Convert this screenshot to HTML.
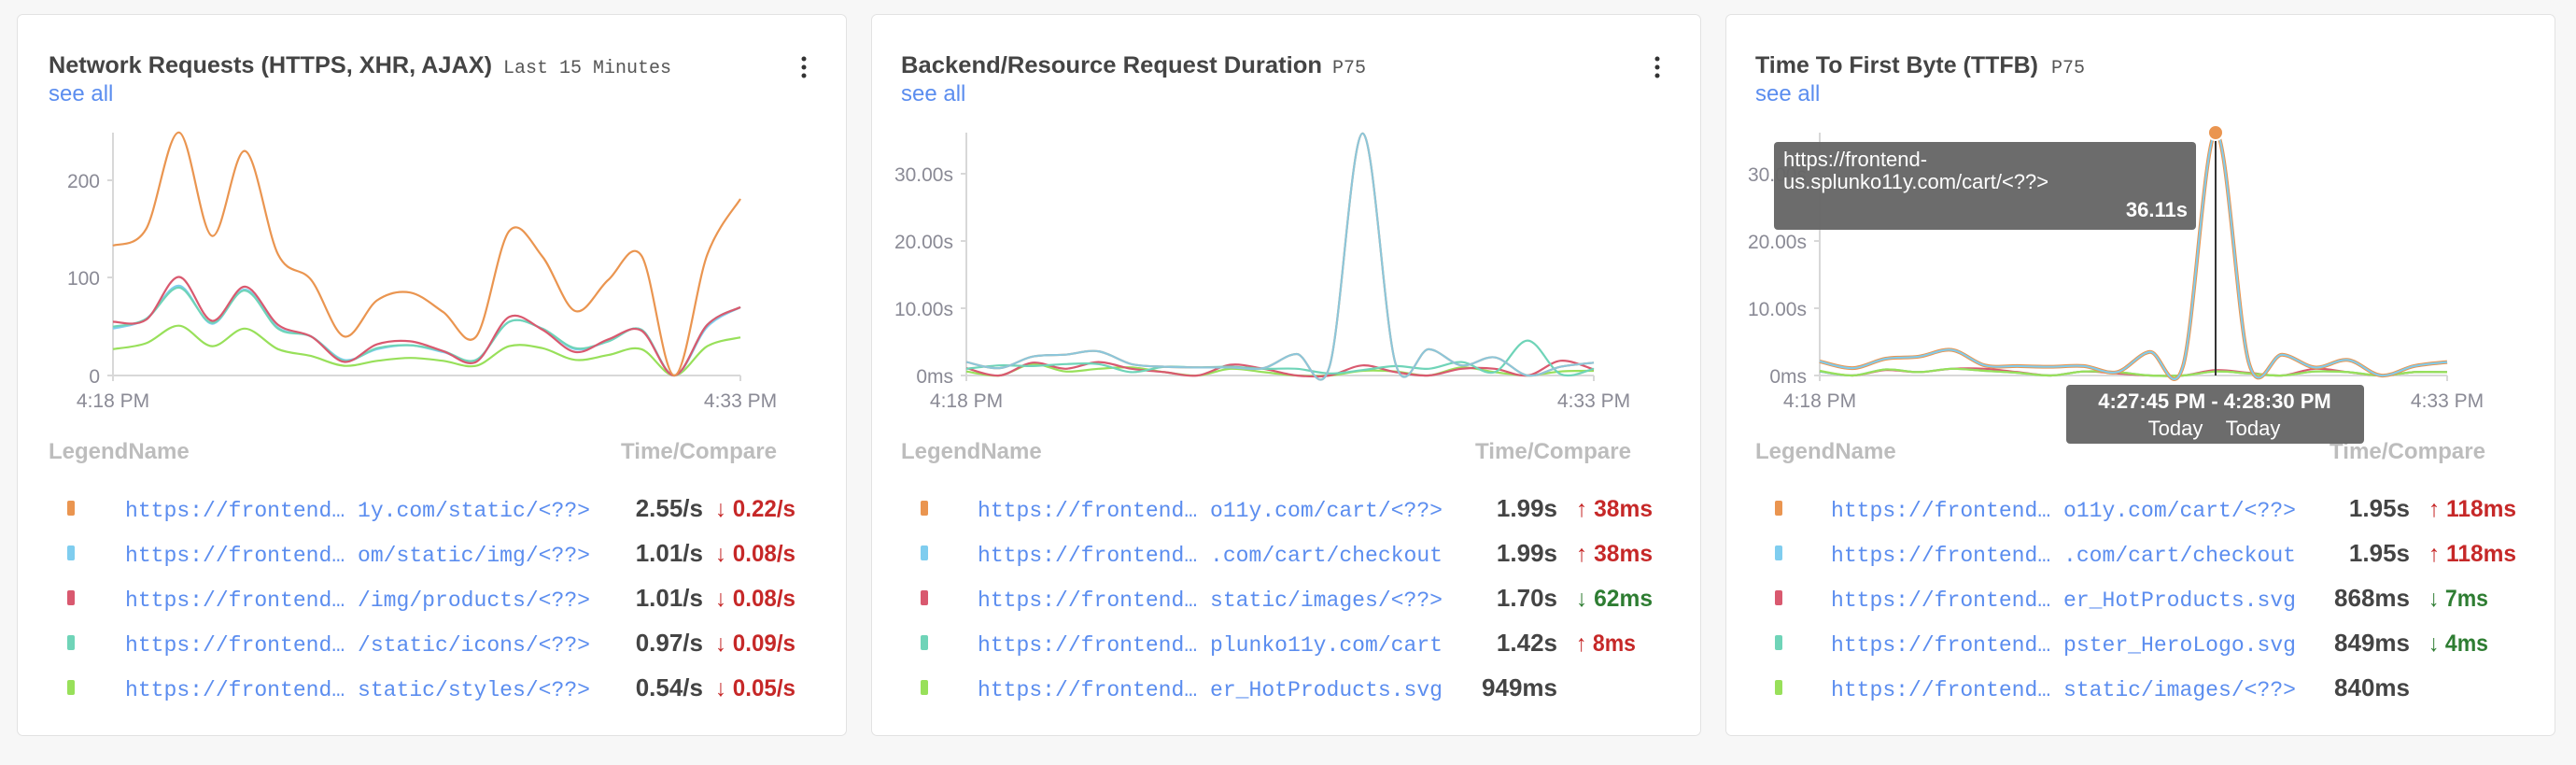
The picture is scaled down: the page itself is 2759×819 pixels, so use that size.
<!DOCTYPE html>
<html><head><meta charset="utf-8"><style>
html,body{margin:0;padding:0;background:#f7f7f7;width:2759px;height:819px;overflow:hidden}
svg{display:block}
.t{font-family:"Liberation Sans",sans-serif;font-weight:bold;font-size:25px;fill:#444}
.sub{font-family:"Liberation Mono",monospace;font-size:20px;fill:#555}
.see{font-family:"Liberation Sans",sans-serif;font-size:24px;fill:#5b8def}
.tick{font-family:"Liberation Sans",sans-serif;font-size:21px;fill:#8a8a95}
.lh{font-family:"Liberation Sans",sans-serif;font-weight:bold;font-size:24px;fill:#bdbdbd}
.url{font-family:"Liberation Mono",monospace;font-size:23px;fill:#5b8def}
.val{font-family:"Liberation Sans",sans-serif;font-weight:bold;font-size:26px;fill:#444}
.up{font-family:"Liberation Sans",sans-serif;font-weight:bold;font-size:25px;fill:#c62828}
.dn{font-family:"Liberation Sans",sans-serif;font-weight:bold;font-size:25px;fill:#2e7d32}
.ar{font-weight:normal}
.tt{font-family:"Liberation Sans",sans-serif;font-size:22px;fill:#fff}
</style></head><body>
<svg id="s" width="2759" height="819" xmlns="http://www.w3.org/2000/svg">
<rect width="2759" height="819" fill="#f7f7f7"/>

<!-- Card 1 -->
<g transform="translate(18,0)">
<rect x="0.5" y="15.5" width="888" height="772" rx="6" fill="#fff" stroke="#e2e2e2"/>
<text class="t" x="34" y="78" textLength="475" lengthAdjust="spacingAndGlyphs">Network Requests (HTTPS, XHR, AJAX)</text>
<text class="sub" x="521" y="78">Last 15 Minutes</text>
<circle cx="843" cy="63" r="2.5" fill="#333"/><circle cx="843" cy="72" r="2.5" fill="#333"/><circle cx="843" cy="81" r="2.5" fill="#333"/>
<text class="see" x="34" y="108">see all</text>
<line x1="103" y1="142" x2="103" y2="408" stroke="#d8d8d8" stroke-width="2"/>
<line x1="103" y1="402" x2="775" y2="402" stroke="#d8d8d8" stroke-width="2"/>
<line x1="775" y1="402" x2="775" y2="408" stroke="#d8d8d8" stroke-width="2"/>
<line x1="97" y1="193" x2="103" y2="193" stroke="#d8d8d8" stroke-width="2"/>
<line x1="97" y1="297" x2="103" y2="297" stroke="#d8d8d8" stroke-width="2"/>
<line x1="97" y1="402" x2="103" y2="402" stroke="#d8d8d8" stroke-width="2"/>
<text class="tick" x="89" y="201" text-anchor="end">200</text>
<text class="tick" x="89" y="305" text-anchor="end">100</text>
<text class="tick" x="89" y="410" text-anchor="end">0</text>
<text class="tick" x="103" y="436" text-anchor="middle">4:18 PM</text>
<text class="tick" x="775" y="436" text-anchor="middle">4:33 PM</text>
<g id="c1"></g>
<text class="lh" x="34" y="491">LegendName</text>
<text class="lh" x="647" y="491" textLength="167" lengthAdjust="spacingAndGlyphs">Time/Compare</text>
<rect x="54" y="536" width="8" height="16" rx="2" fill="#ea9550"/>
<rect x="54" y="584" width="8" height="16" rx="2" fill="#7fcdef"/>
<rect x="54" y="632" width="8" height="16" rx="2" fill="#d9596f"/>
<rect x="54" y="680" width="8" height="16" rx="2" fill="#6fd4b8"/>
<rect x="54" y="728" width="8" height="16" rx="2" fill="#98e05a"/>
<text class="url" x="116" y="553" textLength="498" lengthAdjust="spacingAndGlyphs">https://frontend… 1y.com/static/&lt;??&gt;</text>
<text class="url" x="116" y="601" textLength="498" lengthAdjust="spacingAndGlyphs">https://frontend… om/static/img/&lt;??&gt;</text>
<text class="url" x="116" y="649" textLength="498" lengthAdjust="spacingAndGlyphs">https://frontend… /img/products/&lt;??&gt;</text>
<text class="url" x="116" y="697" textLength="498" lengthAdjust="spacingAndGlyphs">https://frontend… /static/icons/&lt;??&gt;</text>
<text class="url" x="116" y="745" textLength="498" lengthAdjust="spacingAndGlyphs">https://frontend… static/styles/&lt;??&gt;</text>
<text class="val" x="735" y="553" text-anchor="end">2.55/s</text>
<text class="val" x="735" y="601" text-anchor="end">1.01/s</text>
<text class="val" x="735" y="649" text-anchor="end">1.01/s</text>
<text class="val" x="735" y="697" text-anchor="end">0.97/s</text>
<text class="val" x="735" y="745" text-anchor="end">0.54/s</text>
<text class="up" x="748" y="553" textLength="86" lengthAdjust="spacingAndGlyphs"><tspan class="ar">↓</tspan> 0.22/s</text>
<text class="up" x="748" y="601" textLength="86" lengthAdjust="spacingAndGlyphs"><tspan class="ar">↓</tspan> 0.08/s</text>
<text class="up" x="748" y="649" textLength="86" lengthAdjust="spacingAndGlyphs"><tspan class="ar">↓</tspan> 0.08/s</text>
<text class="up" x="748" y="697" textLength="86" lengthAdjust="spacingAndGlyphs"><tspan class="ar">↓</tspan> 0.09/s</text>
<text class="up" x="748" y="745" textLength="86" lengthAdjust="spacingAndGlyphs"><tspan class="ar">↓</tspan> 0.05/s</text>
</g>

<!-- Card 2 -->
<g transform="translate(933,0)">
<rect x="0.5" y="15.5" width="888" height="772" rx="6" fill="#fff" stroke="#e2e2e2"/>
<text class="t" x="32" y="78" textLength="451" lengthAdjust="spacingAndGlyphs">Backend/Resource Request Duration</text>
<text class="sub" x="494" y="78">P75</text>
<circle cx="842" cy="63" r="2.5" fill="#333"/><circle cx="842" cy="72" r="2.5" fill="#333"/><circle cx="842" cy="81" r="2.5" fill="#333"/>
<text class="see" x="32" y="108">see all</text>
<line x1="102" y1="142" x2="102" y2="408" stroke="#d8d8d8" stroke-width="2"/>
<line x1="102" y1="402" x2="774" y2="402" stroke="#d8d8d8" stroke-width="2"/>
<line x1="774" y1="402" x2="774" y2="408" stroke="#d8d8d8" stroke-width="2"/>
<line x1="96" y1="186" x2="102" y2="186" stroke="#d8d8d8" stroke-width="2"/>
<line x1="96" y1="258" x2="102" y2="258" stroke="#d8d8d8" stroke-width="2"/>
<line x1="96" y1="330" x2="102" y2="330" stroke="#d8d8d8" stroke-width="2"/>
<line x1="96" y1="402" x2="102" y2="402" stroke="#d8d8d8" stroke-width="2"/>
<text class="tick" x="88" y="194" text-anchor="end">30.00s</text>
<text class="tick" x="88" y="266" text-anchor="end">20.00s</text>
<text class="tick" x="88" y="338" text-anchor="end">10.00s</text>
<text class="tick" x="88" y="410" text-anchor="end">0ms</text>
<text class="tick" x="102" y="436" text-anchor="middle">4:18 PM</text>
<text class="tick" x="774" y="436" text-anchor="middle">4:33 PM</text>
<g id="c2"></g>
<text class="lh" x="32" y="491">LegendName</text>
<text class="lh" x="647" y="491" textLength="167" lengthAdjust="spacingAndGlyphs">Time/Compare</text>
<rect x="53" y="536" width="8" height="16" rx="2" fill="#ea9550"/>
<rect x="53" y="584" width="8" height="16" rx="2" fill="#7fcdef"/>
<rect x="53" y="632" width="8" height="16" rx="2" fill="#d9596f"/>
<rect x="53" y="680" width="8" height="16" rx="2" fill="#6fd4b8"/>
<rect x="53" y="728" width="8" height="16" rx="2" fill="#98e05a"/>
<text class="url" x="114" y="553" textLength="498" lengthAdjust="spacingAndGlyphs">https://frontend… o11y.com/cart/&lt;??&gt;</text>
<text class="url" x="114" y="601" textLength="498" lengthAdjust="spacingAndGlyphs">https://frontend… .com/cart/checkout</text>
<text class="url" x="114" y="649" textLength="498" lengthAdjust="spacingAndGlyphs">https://frontend… static/images/&lt;??&gt;</text>
<text class="url" x="114" y="697" textLength="498" lengthAdjust="spacingAndGlyphs">https://frontend… plunko11y.com/cart</text>
<text class="url" x="114" y="745" textLength="498" lengthAdjust="spacingAndGlyphs">https://frontend… er_HotProducts.svg</text>
<text class="val" x="735" y="553" text-anchor="end">1.99s</text>
<text class="val" x="735" y="601" text-anchor="end">1.99s</text>
<text class="val" x="735" y="649" text-anchor="end">1.70s</text>
<text class="val" x="735" y="697" text-anchor="end">1.42s</text>
<text class="val" x="735" y="745" text-anchor="end">949ms</text>
<text class="up" x="755" y="553" textLength="82" lengthAdjust="spacingAndGlyphs"><tspan class="ar">↑</tspan> 38ms</text>
<text class="up" x="755" y="601" textLength="82" lengthAdjust="spacingAndGlyphs"><tspan class="ar">↑</tspan> 38ms</text>
<text class="dn" x="755" y="649" textLength="82" lengthAdjust="spacingAndGlyphs"><tspan class="ar">↓</tspan> 62ms</text>
<text class="up" x="755" y="697" textLength="64" lengthAdjust="spacingAndGlyphs"><tspan class="ar">↑</tspan> 8ms</text>
</g>

<!-- Card 3 -->
<g transform="translate(1848,0)">
<rect x="0.5" y="15.5" width="888" height="772" rx="6" fill="#fff" stroke="#e2e2e2"/>
<text class="t" x="32" y="78" textLength="303" lengthAdjust="spacingAndGlyphs">Time To First Byte (TTFB)</text>
<text class="sub" x="349" y="78">P75</text>
<text class="see" x="32" y="108">see all</text>
<line x1="101" y1="142" x2="101" y2="408" stroke="#d8d8d8" stroke-width="2"/>
<line x1="101" y1="402" x2="773" y2="402" stroke="#d8d8d8" stroke-width="2"/>
<line x1="773" y1="402" x2="773" y2="408" stroke="#d8d8d8" stroke-width="2"/>
<line x1="95" y1="186" x2="101" y2="186" stroke="#d8d8d8" stroke-width="2"/>
<line x1="95" y1="258" x2="101" y2="258" stroke="#d8d8d8" stroke-width="2"/>
<line x1="95" y1="330" x2="101" y2="330" stroke="#d8d8d8" stroke-width="2"/>
<line x1="95" y1="402" x2="101" y2="402" stroke="#d8d8d8" stroke-width="2"/>
<text class="tick" x="87" y="194" text-anchor="end">30.00s</text>
<text class="tick" x="87" y="266" text-anchor="end">20.00s</text>
<text class="tick" x="87" y="338" text-anchor="end">10.00s</text>
<text class="tick" x="87" y="410" text-anchor="end">0ms</text>
<text class="tick" x="101" y="436" text-anchor="middle">4:18 PM</text>
<text class="tick" x="773" y="436" text-anchor="middle">4:33 PM</text>
<g id="c3"></g>
<text class="lh" x="32" y="491">LegendName</text>
<text class="lh" x="647" y="491" textLength="167" lengthAdjust="spacingAndGlyphs">Time/Compare</text>
<rect x="53" y="536" width="8" height="16" rx="2" fill="#ea9550"/>
<rect x="53" y="584" width="8" height="16" rx="2" fill="#7fcdef"/>
<rect x="53" y="632" width="8" height="16" rx="2" fill="#d9596f"/>
<rect x="53" y="680" width="8" height="16" rx="2" fill="#6fd4b8"/>
<rect x="53" y="728" width="8" height="16" rx="2" fill="#98e05a"/>
<text class="url" x="113" y="553" textLength="498" lengthAdjust="spacingAndGlyphs">https://frontend… o11y.com/cart/&lt;??&gt;</text>
<text class="url" x="113" y="601" textLength="498" lengthAdjust="spacingAndGlyphs">https://frontend… .com/cart/checkout</text>
<text class="url" x="113" y="649" textLength="498" lengthAdjust="spacingAndGlyphs">https://frontend… er_HotProducts.svg</text>
<text class="url" x="113" y="697" textLength="498" lengthAdjust="spacingAndGlyphs">https://frontend… pster_HeroLogo.svg</text>
<text class="url" x="113" y="745" textLength="498" lengthAdjust="spacingAndGlyphs">https://frontend… static/images/&lt;??&gt;</text>
<text class="val" x="733" y="553" text-anchor="end">1.95s</text>
<text class="val" x="733" y="601" text-anchor="end">1.95s</text>
<text class="val" x="733" y="649" text-anchor="end">868ms</text>
<text class="val" x="733" y="697" text-anchor="end">849ms</text>
<text class="val" x="733" y="745" text-anchor="end">840ms</text>
<text class="up" x="753" y="553" textLength="94" lengthAdjust="spacingAndGlyphs"><tspan class="ar">↑</tspan> 118ms</text>
<text class="up" x="753" y="601" textLength="94" lengthAdjust="spacingAndGlyphs"><tspan class="ar">↑</tspan> 118ms</text>
<text class="dn" x="753" y="649" textLength="64" lengthAdjust="spacingAndGlyphs"><tspan class="ar">↓</tspan> 7ms</text>
<text class="dn" x="753" y="697" textLength="64" lengthAdjust="spacingAndGlyphs"><tspan class="ar">↓</tspan> 4ms</text>
</g>

<!-- Tooltips card 3 (absolute) -->
<line x1="2373" y1="142" x2="2373" y2="402" stroke="#333" stroke-width="2"/>
<circle cx="2373" cy="142" r="8" fill="#ea9550" stroke="#fff" stroke-width="2"/>
<rect x="1900" y="152" width="452" height="94" rx="4" fill="#666" fill-opacity="0.96"/>
<text class="tt" x="1910" y="178">https://frontend-</text>
<text class="tt" x="1910" y="202">us.splunko11y.com/cart/&lt;??&gt;</text>
<text class="tt" x="2343" y="232" text-anchor="end" font-weight="bold">36.11s</text>
<rect x="2213" y="412" width="319" height="63" rx="4" fill="#666" fill-opacity="0.96"/>
<text class="tt" x="2372" y="437" text-anchor="middle" font-weight="bold">4:27:45 PM  -  4:28:30 PM</text>
<text class="tt" x="2330" y="466" text-anchor="middle" font-size="18">Today</text>
<text class="tt" x="2413" y="466" text-anchor="middle" font-size="18">Today</text>
</svg>
<script>
function cr(pts){
  var d="M"+pts[0][0].toFixed(1)+","+pts[0][1].toFixed(1);
  for(var i=0;i<pts.length-1;i++){
    var p0=pts[Math.max(i-1,0)],p1=pts[i],p2=pts[i+1],p3=pts[Math.min(i+2,pts.length-1)];
    var c1x=p1[0]+(p2[0]-p0[0])/6,c1y=p1[1]+(p2[1]-p0[1])/6;
    var c2x=p2[0]-(p3[0]-p1[0])/6,c2y=p2[1]-(p3[1]-p1[1])/6;
    d+=" C"+c1x.toFixed(1)+","+c1y.toFixed(1)+" "+c2x.toFixed(1)+","+c2y.toFixed(1)+" "+p2[0].toFixed(1)+","+p2[1].toFixed(1);
  }
  return d;
}
function draw(id,x0,x1,y0,scale,series){
  var g=document.getElementById(id),ns="http://www.w3.org/2000/svg";
  series.forEach(function(s){
    var n=s.v.length,pts=s.v.map(function(v,i){return [x0+(x1-x0)*i/(n-1),y0-v*scale];});
    var p=document.createElementNS(ns,"path");
    p.setAttribute("d",cr(pts));p.setAttribute("fill","none");
    p.setAttribute("stroke",s.c);p.setAttribute("stroke-width",s.w||2.2);
    p.setAttribute("stroke-linejoin","round");
    g.appendChild(p);
  });
}
var O="#ea9550",B="#7fcdef",R="#d9596f",T="#6fd4b8",G="#98e05a";
draw("c1",103,775,402,1.045,[
 {c:G,v:[27,33,51,30,48,27,20,10,15,18,15,10,30,28,16,21,27,0,30,39]},
 {c:B,v:[48,58,92,53,88,49,40,16,27,31,24,16,55,48,27,35,47,0,50,70]},
 {c:T,v:[50,58,90,54,87,48,40,15,28,31,25,16,55,48,28,35,47,0,52,70]},
 {c:R,v:[55,57,101,56,91,52,40,14,32,35,25,14,60,47,24,37,46,0,52,70]},
 {c:O,v:[133,150,249,143,230,124,98,40,77,85,65,40,148,122,66,98,123,0,124,181]}
]);
draw("c2",102,774,402,7.2,[
 {c:G,v:[0.6,0,1.7,0.6,1.0,1.2,0.5,0,1.0,0.5,0,0,0.7,0.6,0,1.2,0.5,0,0.6,0.7]},
 {c:R,v:[1.1,0,1.9,1.0,2.0,1.0,0.5,0,1.6,1.0,0,0,1.5,0.5,0,1.0,1.0,0,2.2,0.9]},
 {c:T,v:[1.0,1.5,1.4,1.7,1.7,0.5,1.3,1.2,1.3,1.0,1.0,0.3,0.8,1.4,1.0,2.0,0.5,5.2,0.2,1.0]},
 {c:O,v:[2.0,1.1,2.8,3.1,3.6,1.7,1.3,1.2,1.2,1.1,3.2,1.4,36,1.7,3.9,1.5,2.7,0,1.3,1.9]},
 {c:"#8cc6da",v:[2.0,1.1,2.8,3.1,3.6,1.7,1.3,1.2,1.2,1.1,3.2,1.4,36,1.7,3.9,1.5,2.7,0,1.3,1.9]}
]);
draw("c3",101,773,402,7.2,[
 {c:R,v:[0.6,0,0.8,0.5,1,1,0.5,0,0.6,0.3,0,0,0.8,0.4,0,1,0.5,0,0.5,0.5]},
 {c:T,v:[0.6,0,0.9,0.5,1,0.7,0.4,0,0.6,0.5,0,0,0.6,0.3,0,0.6,0.5,0,0.5,0.5]},
 {c:G,v:[0.7,0,0.9,0.5,1,0.7,0.4,0,0.6,0.5,0,0,0.6,0.3,0,0.6,0.5,0,0.5,0.5]},
 {c:O,w:4,v:[2.1,1.1,2.5,2.8,3.8,1.5,1.4,1.3,1.4,0.5,3.5,1.4,36.11,1.8,3.1,1.2,2.3,0,1.4,2.0]},
 {c:B,w:2,v:[2.1,1.1,2.5,2.8,3.8,1.5,1.4,1.3,1.4,0.5,3.5,1.4,36.11,1.8,3.1,1.2,2.3,0,1.4,2.0]}
]);
</script>
</body></html>
